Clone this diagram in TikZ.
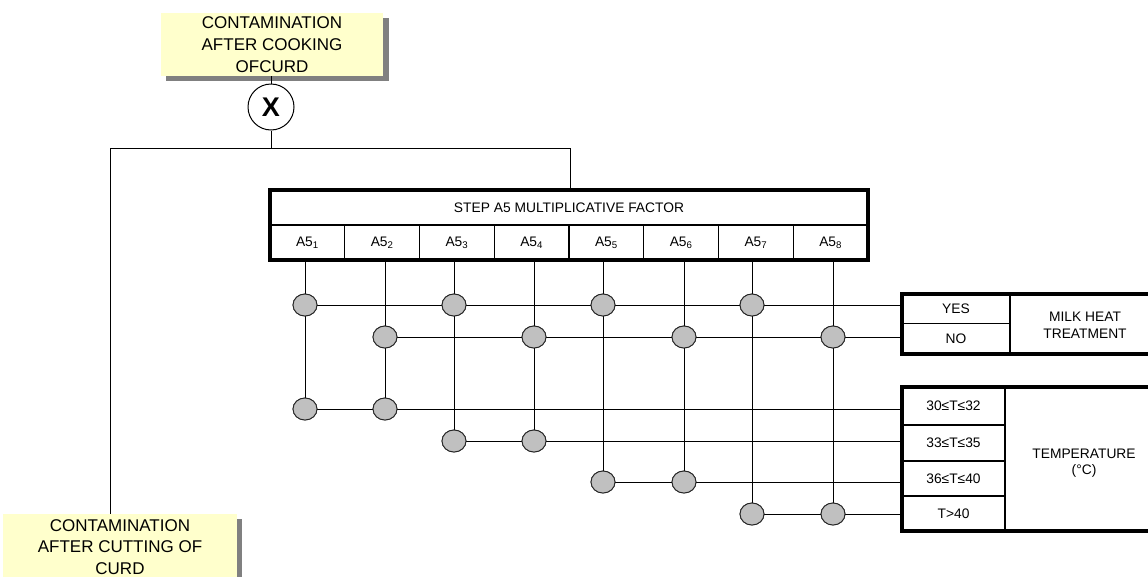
\documentclass[tikz,border=0pt]{standalone}
\usepackage{fontspec}
\setmainfont{Liberation Sans}
\usetikzlibrary{shapes.geometric}
\definecolor{paleyellow}{RGB}{255,255,204}
\definecolor{dotgray}{RGB}{192,192,192}
\definecolor{shadowgray}{RGB}{128,128,128}
\begin{document}
\begin{tikzpicture}[x=1pt,y=-1pt,line width=0.9pt,
  lbl/.style={font=\fontsize{13.8}{16.5}\selectfont,align=center,inner sep=0pt},
  bigbox/.style={fill=paleyellow,draw=none,align=center,inner sep=0pt,
    font=\fontsize{17}{21.7}\selectfont},
  dot/.style={ellipse,minimum width=24pt,minimum height=22pt,inner sep=0pt,
    fill=dotgray,draw=black!85,line width=0.9pt},
  frame/.style={line width=4pt},
  inner/.style={line width=1.2pt},
  conn/.style={line width=1pt,black}]
\useasboundingbox (0,0) rectangle (1148,576);

% yellow boxes with shadows
\fill[shadowgray] (166,18) rectangle (389,81);
\node[bigbox,minimum width=222pt,minimum height=63pt] (top) at (272,44.5)
  {CONTAMINATION\\AFTER COOKING\\OFCURD};
\fill[shadowgray] (8,519) rectangle (242,584);
\node[bigbox,minimum width=234pt,minimum height=66pt] (bot) at (120,547)
  {CONTAMINATION\\AFTER CUTTING OF\\CURD};

% multiplication node
\node[circle,draw,line width=1pt,minimum size=46pt,inner sep=0pt,
  font=\fontsize{27}{27}\selectfont\bfseries] (x) at (271,107) {X};
\coordinate (split) at (271,148);
\coordinate (leftc) at (110,148);
\coordinate (rightc) at (570,148);
\coordinate (tabtop) at (570,190);
\draw[conn] (x.north |- top.south) -- (x.north);
\draw[conn] (x.south) -- (split);
\draw[conn] (leftc |- bot.north) -- (leftc) -- (rightc) -- (tabtop);

% column anchors
\foreach \i/\xx in {1/305,2/385,3/454,4/534,5/603,6/684,7/752,8/833}
  \coordinate (c\i) at (\xx,260);

% row end points at the right tables
\coordinate (ryes) at (902,305);
\coordinate (rno) at (902,337);
\coordinate (rt1) at (902,409);
\coordinate (rt2) at (902,441);
\coordinate (rt3) at (902,482);
\coordinate (rt4) at (902,514);

% dots
\node[dot] (y1) at (305,305) {};
\node[dot] (y3) at (454,305) {};
\node[dot] (y5) at (603,305) {};
\node[dot] (y7) at (752,305) {};
\node[dot] (n2) at (385,337) {};
\node[dot] (n4) at (534,337) {};
\node[dot] (n6) at (684,337) {};
\node[dot] (n8) at (833,337) {};
\node[dot] (t1a) at (305,409) {};
\node[dot] (t1b) at (385,409) {};
\node[dot] (t2a) at (454,441) {};
\node[dot] (t2b) at (534,441) {};
\node[dot] (t3a) at (603,482) {};
\node[dot] (t3b) at (684,482) {};
\node[dot] (t4a) at (752,514) {};
\node[dot] (t4b) at (833,514) {};

% connectors
\draw[conn] (c1) -- (y1) -- (t1a);
\draw[conn] (c2) -- (n2) -- (t1b);
\draw[conn] (c3) -- (y3) -- (t2a);
\draw[conn] (c4) -- (n4) -- (t2b);
\draw[conn] (c5) -- (y5) -- (t3a);
\draw[conn] (c6) -- (n6) -- (t3b);
\draw[conn] (c7) -- (y7) -- (t4a);
\draw[conn] (c8) -- (n8) -- (t4b);
\draw[conn] (y1) -- (y3) -- (y5) -- (y7) -- (ryes);
\draw[conn] (n2) -- (n4) -- (n6) -- (n8) -- (rno);
\draw[conn] (t1a) -- (t1b) -- (rt1);
\draw[conn] (t2a) -- (t2b) -- (rt2);
\draw[conn] (t3a) -- (t3b) -- (rt3);
\draw[conn] (t4a) -- (t4b) -- (rt4);
% dots again on top of the lines
\foreach \p in {y1,y3,y5,y7,n2,n4,n6,n8,t1a,t1b,t2a,t2b,t3a,t3b,t4a,t4b}
  \node[dot] at (\p) {};

% step table
\draw[inner] (270,225) -- (868,225);
\foreach \i in {1,...,7}
  \draw[inner] ({270+74.75*\i},225) -- ({270+74.75*\i},260);
\draw[frame] (270,190) rectangle (868,260);
\node[lbl] (step) at (569,207.5) {STEP A5 MULTIPLICATIVE FACTOR};
\foreach \i in {1,...,8}
  \node[lbl] (a\i) at ({270+74.75*(\i-0.5)},243) {A5\textsubscript{\i}};

% milk heat treatment table
\draw[inner] (902,323.5) -- (1010,323.5);
\draw[inner] (1010,294) -- (1010,354);
\draw[frame] (902,294) rectangle (1162,354);
\node[lbl] (yes) at (956,309) {YES};
\node[lbl] (no) at (956,339) {NO};
\node[lbl] (milk) at (1085,325) {MILK HEAT\\TREATMENT};

% temperature table
\draw[inner] (902,425) -- (1005,425);
\draw[inner] (902,461) -- (1005,461);
\draw[inner] (902,496) -- (1005,496);
\draw[inner] (1005,387) -- (1005,531);
\draw[frame] (902,387) rectangle (1162,531);
\node[lbl] (tt1) at (953.5,406) {30≤T≤32};
\node[lbl] (tt2) at (953.5,443) {33≤T≤35};
\node[lbl] (tt3) at (953.5,478.5) {36≤T≤40};
\node[lbl] (tt4) at (953.5,513.5) {T>40};
\node[lbl] (temp) at (1084,463) {TEMPERATURE\\(°C)};
\end{tikzpicture}
\end{document}
